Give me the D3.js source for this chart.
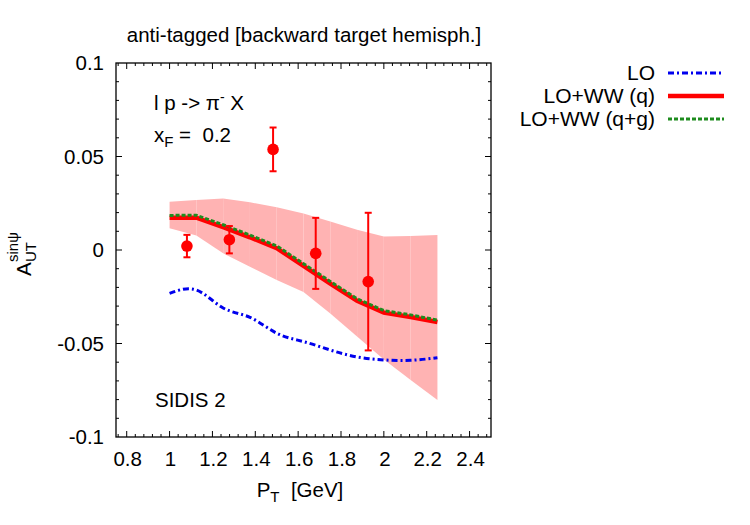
<!DOCTYPE html>
<html>
<head>
<meta charset="utf-8">
<script src="https://cdn.jsdelivr.net/npm/d3@7"></script>
<style>
  body { margin: 0; background: #fff; }
  svg text { font-family: "Liberation Sans", Arial, sans-serif; fill: #000; }
</style>
</head>
<body>
<svg id="chart" width="750" height="525"></svg>
<script>
// theory grid in P_T
var ptGrid = [1.0, 1.125, 1.25, 1.375, 1.5, 1.625, 1.75, 1.875, 2.0, 2.125, 2.25];
// error band (LO+WW)
var bandUpper = [0.0258, 0.0267, 0.0276, 0.0255, 0.0228, 0.0195, 0.0152, 0.0108, 0.0072, 0.0075, 0.0080];
var bandLower = [0.0116, 0.0077, -0.0018, -0.0090, -0.0160, -0.0225, -0.0340, -0.0462, -0.0585, -0.0695, -0.0802];
// curves
var curveLO = [-0.0232, -0.0214, -0.0310, -0.0360, -0.0445, -0.0490, -0.0535, -0.0572, -0.0588, -0.0590, -0.0576];
var curveWWq = [0.0173, 0.0173, 0.0122, 0.0068, 0.0010, -0.0085, -0.0180, -0.0272, -0.0335, -0.0358, -0.0385];
var curveWWqg = [0.0185, 0.0186, 0.0135, 0.0080, 0.0022, -0.0073, -0.0168, -0.0261, -0.0324, -0.0347, -0.0375];
// measured points
var dataPt = [1.081, 1.279, 1.483, 1.682, 1.927];
var dataA = [0.0021, 0.0055, 0.0538, -0.0018, -0.0169];
var dataErr = [0.0060, 0.0073, 0.0117, 0.0190, 0.0368];
// ticks
var xTicks = [0.8, 1, 1.2, 1.4, 1.6, 1.8, 2, 2.2, 2.4];
var yTicks = [0.1, 0.05, 0, -0.05, -0.1];
var legendNames = ['LO', 'LO+WW (q)', 'LO+WW (q+g)'];

(function () {
  var svg = d3.select('#chart');
  var plotLeft = 116, plotRight = 491, plotTop = 63, plotBottom = 437;
  var fontSize = 20.5;

  var x = d3.scaleLinear().domain([0.75, 2.5]).range([plotLeft, plotRight]);
  var y = d3.scaleLinear().domain([-0.1, 0.1]).range([plotBottom, plotTop]);

  var styles = [
    { color: '#0000ee', width: 3, dash: '6,3,2,3' },
    { color: '#ff0000', width: 4.5, dash: null },
    { color: '#1e8c1e', width: 3, dash: '4,2' }
  ];

  // band, drawn as one trapezoid per grid step
  var bandArea = d3.area()
    .x(function (d) { return x(d.pt); })
    .y0(function (d) { return y(d.lo); })
    .y1(function (d) { return y(d.hi); });
  for (var i = 0; i < ptGrid.length - 1; i++) {
    var seg = [
      { pt: ptGrid[i], lo: bandLower[i], hi: bandUpper[i] },
      { pt: ptGrid[i + 1], lo: bandLower[i + 1], hi: bandUpper[i + 1] }
    ];
    svg.append('path').attr('d', bandArea(seg)).attr('fill', '#ffb3b3');
  }

  // curves
  function drawCurve(values, st, curve) {
    var line = d3.line()
      .x(function (d, i) { return x(ptGrid[i]); })
      .y(function (d) { return y(d); })
      .curve(curve);
    svg.append('path')
      .attr('d', line(values))
      .attr('fill', 'none')
      .attr('stroke', st.color)
      .attr('stroke-width', st.width)
      .attr('stroke-dasharray', st.dash);
  }
  drawCurve(curveLO, styles[0], d3.curveNatural);
  drawCurve(curveWWq, styles[1], d3.curveLinear);
  drawCurve(curveWWqg, styles[2], d3.curveLinear);

  // data points
  var pts = svg.append('g');
  dataPt.forEach(function (pt, i) {
    var cx = x(pt);
    var y1 = y(dataA[i] + dataErr[i]);
    var y2 = y(dataA[i] - dataErr[i]);
    pts.append('line').attr('x1', cx).attr('x2', cx).attr('y1', y1).attr('y2', y2)
      .attr('stroke', '#ff0000').attr('stroke-width', 2);
    [y1, y2].forEach(function (yy) {
      pts.append('line').attr('x1', cx - 3.5).attr('x2', cx + 3.5).attr('y1', yy).attr('y2', yy)
        .attr('stroke', '#ff0000').attr('stroke-width', 2);
    });
    pts.append('circle').attr('cx', cx).attr('cy', y(dataA[i])).attr('r', 5.8).attr('fill', '#ff0000');
  });

  // frame and ticks (inside, mirrored)
  var frame = svg.append('g');
  frame.append('rect')
    .attr('x', plotLeft).attr('y', plotTop)
    .attr('width', plotRight - plotLeft).attr('height', plotBottom - plotTop)
    .attr('fill', 'none').attr('stroke', '#000').attr('stroke-width', 1.3);

  var xMinor = d3.range(0.76, 2.5, 0.04);
  xMinor.forEach(function (v) {
    var isMajor = Math.abs(v * 5 - Math.round(v * 5)) < 1e-6;
    var len = isMajor ? 6 : 3;
    frame.append('line').attr('x1', x(v)).attr('x2', x(v))
      .attr('y1', plotBottom).attr('y2', plotBottom - len).attr('stroke', '#000');
    frame.append('line').attr('x1', x(v)).attr('x2', x(v))
      .attr('y1', plotTop).attr('y2', plotTop + len).attr('stroke', '#000');
  });
  var yMinor = d3.range(-9, 10).map(function (k) { return k / 100; });
  yMinor.forEach(function (v) {
    var isMajor = Math.abs(v * 20 - Math.round(v * 20)) < 1e-6;
    var len = isMajor ? 6 : 3;
    frame.append('line').attr('x1', plotLeft).attr('x2', plotLeft + len)
      .attr('y1', y(v)).attr('y2', y(v)).attr('stroke', '#000');
    frame.append('line').attr('x1', plotRight).attr('x2', plotRight - len)
      .attr('y1', y(v)).attr('y2', y(v)).attr('stroke', '#000');
  });

  // tick labels
  xTicks.forEach(function (v) {
    svg.append('text').attr('x', x(v) + 1).attr('y', 466).attr('text-anchor', 'middle')
      .attr('font-size', fontSize).text(v);
  });
  yTicks.forEach(function (v) {
    svg.append('text').attr('x', 104).attr('y', y(v) + 7).attr('text-anchor', 'end')
      .attr('font-size', fontSize).text(v);
  });

  // title
  svg.append('text').attr('x', 304).attr('y', 42).attr('text-anchor', 'middle')
    .attr('font-size', fontSize).text('anti-tagged [backward target hemisph.]');

  // x-axis label
  var xl = svg.append('text').attr('x', 300).attr('y', 497).attr('text-anchor', 'middle')
    .attr('font-size', fontSize);
  xl.append('tspan').text('P');
  xl.append('tspan').attr('dy', 5).attr('font-size', 15).text('T');
  xl.append('tspan').attr('dy', -5).text('\u00a0 [GeV]');

  // y-axis label
  var yl = svg.append('g').attr('transform', 'translate(31,250) rotate(-90)');
  yl.append('text').attr('x', -26).attr('y', 0).attr('font-size', fontSize).text('A');
  yl.append('text').attr('x', -12).attr('y', 5).attr('font-size', 15).text('UT');
  yl.append('text').attr('x', -12).attr('y', -13).attr('font-size', 15).text('sin\u03c8');

  // annotations
  var r1 = svg.append('text').attr('x', 154).attr('y', 110).attr('font-size', fontSize);
  r1.append('tspan').text('l p -> \u03c0');
  r1.append('tspan').attr('dy', -8).attr('font-size', 14).text('-');
  r1.append('tspan').attr('dy', 8).text(' X');

  var r2 = svg.append('text').attr('x', 154).attr('y', 142).attr('font-size', fontSize);
  r2.append('tspan').text('x');
  r2.append('tspan').attr('dy', 5).attr('font-size', 15).text('F');
  r2.append('tspan').attr('dy', -5).text('\u00a0=\u00a0 0.2');

  svg.append('text').attr('x', 155).attr('y', 407).attr('font-size', fontSize).text('SIDIS 2');

  // legend
  var legend = svg.append('g');
  legendNames.forEach(function (name, i) {
    var ly = 73 + i * 23;
    legend.append('text').attr('x', 655).attr('y', ly + 7).attr('text-anchor', 'end')
      .attr('font-size', 21).text(name);
    legend.append('line').attr('x1', 668).attr('x2', 724).attr('y1', ly).attr('y2', ly)
      .attr('stroke', styles[i].color).attr('stroke-width', styles[i].width)
      .attr('stroke-dasharray', styles[i].dash);
  });
})();
</script>
</body>
</html>
